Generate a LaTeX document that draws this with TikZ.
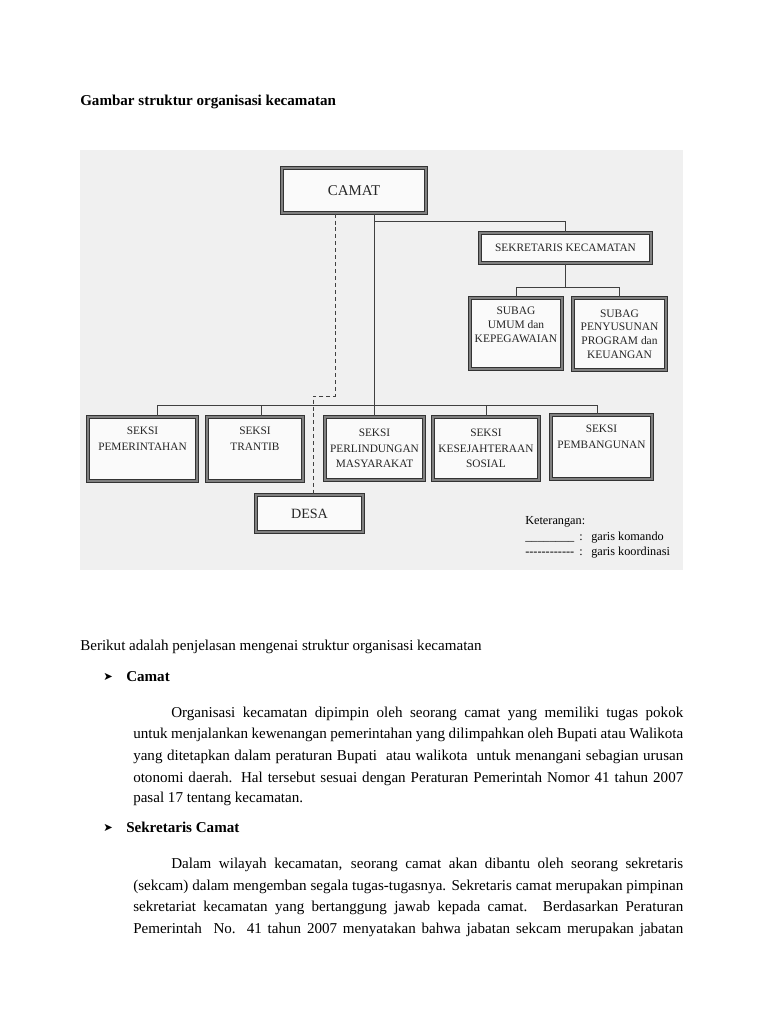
\documentclass[tikz,border=0pt]{standalone}
\usepackage{fontspec}
\setmainfont{Liberation Serif}
\newfontfamily\dejavu{DejaVu Sans}
\newcommand{\bodyfs}{\fontsize{11.3pt}{16pt}\selectfont}
\newcommand{\boxfs}{\fontsize{8.5pt}{11.6pt}\selectfont}
\newcommand{\subfs}{\fontsize{8.6pt}{10.2pt}\selectfont}
\newcommand{\ketfs}{\fontsize{9.2pt}{11pt}\selectfont}
\tikzset{
  dbox/.style={draw=black!80, line width=0.9pt, double=black!50, double distance=1.3pt,
    fill=black!2, inner sep=0pt, align=center, text=black!85},
  cmd/.style={draw=black!75, line width=0.75pt},
  crd/.style={draw=black!75, line width=0.75pt, dash pattern=on 3pt off 2.2pt},
  txt/.style={inner sep=0pt, anchor=base west, text=black},
}
\begin{document}
\begin{tikzpicture}[x=0.75pt,y=-0.75pt]
\useasboundingbox (0,0) rectangle (768,1024);
\fill[white] (0,0) rectangle (768,1024);
% scanned diagram background
\fill[black!6] (80,150) rectangle (683,570);

\node[txt] (title) at (80,105) {\bodyfs\bfseries Gambar struktur organisasi kecamatan};

% boxes
\node[dbox, font=\fontsize{11.2pt}{13pt}\selectfont, minimum width=108pt, minimum height=33.75pt] (camat) at (354,190.5) {CAMAT};
\node[dbox, font=\boxfs, minimum width=128.25pt, minimum height=22.5pt] (sek) at (565.5,248) {SEKRETARIS KECAMATAN};
\node[dbox, font=\subfs, minimum width=69pt, minimum height=53.25pt] (sub1) at (516,333.5) {SUBAG\\UMUM dan\\KEPEGAWAIAN\\\strut};
\node[dbox, font=\subfs, minimum width=69.75pt, minimum height=54pt] (sub2) at (619.5,334) {SUBAG\\PENYUSUNAN\\PROGRAM dan\\KEUANGAN};
\node[dbox, font=\boxfs, minimum width=81.75pt, minimum height=48pt] (s1) at (142.5,449) {SEKSI\\PEMERINTAHAN\\\strut};
\node[dbox, font=\boxfs, minimum width=72pt, minimum height=48pt] (s2) at (255,449) {SEKSI\\TRANTIB\\\strut};
\node[dbox, font=\boxfs, minimum width=74.25pt, minimum height=47.25pt] (s3) at (374.5,448.5) {SEKSI\\PERLINDUNGAN\\MASYARAKAT};
\node[dbox, font=\boxfs, minimum width=79.5pt, minimum height=47.25pt] (s4) at (486,448.5) {SEKSI\\KESEJAHTERAAN\\SOSIAL};
\node[dbox, font=\boxfs, minimum width=75.75pt, minimum height=48pt] (s5) at (601.5,447) {SEKSI\\PEMBANGUNAN\\\strut};
\node[dbox, font=\fontsize{10.6pt}{12pt}\selectfont, minimum width=80.25pt, minimum height=27.75pt] (desa) at (309.5,513.5) {DESA};

% command lines
\coordinate (xs) at (374,405);
\coordinate (yk) at (374,221);
\draw[cmd] (camat.south -| xs) -- (xs);
\draw[cmd] (yk) -| (sek.north);
\coordinate (sj) at (566,287);
\draw[cmd] (sek.south) -- (sek.south |- sj);
\draw[cmd] (sub1.north) -- (sub1.north |- sj) -- (sub2.north |- sj) -- (sub2.north);
\coordinate (d1) at (157,405);
\coordinate (d2) at (261,405);
\coordinate (d4) at (486,405);
\coordinate (d5) at (597,405);
\draw[cmd] (d1) -- (d5);
\draw[cmd] (d1) -- (d1 |- s1.north);
\draw[cmd] (d2) -- (d2 |- s2.north);
\draw[cmd] (xs) -- (xs |- s3.north);
\draw[cmd] (d4) -- (d4 |- s4.north);
\draw[cmd] (d5) -- (d5 |- s5.north);
% coordination line
\coordinate (k1) at (335,396);
\coordinate (k2) at (313,396);
\draw[crd] (camat.south -| k1) -- (k1) -- (k2) -- (k2 |- desa.north);

% legend
\node[txt] (ket) at (525,524) {\ketfs Keterangan:};
\node[txt] (lg1) at (525,540) {\ketfs\_\_\_\_\_\_\_\_};
\node[txt] (lg1c) at (579,540) {\ketfs :};
\node[txt] (lg1t) at (591,540) {\ketfs garis komando};
\node[txt] (lg2) at (525,555) {\ketfs {-}{-}{-}{-}{-}{-}{-}{-}{-}{-}{-}{-}};
\node[txt] (lg2c) at (579,555) {\ketfs :};
\node[txt] (lg2t) at (591,555) {\ketfs garis koordinasi};

% body text
\node[txt] (intro) at (80,650) {\bodyfs Berikut adalah penjelasan mengenai struktur organisasi kecamatan};
\node[txt] (b1) at (103,680) {\fontsize{8.5pt}{10pt}\dejavu ➤};
\node[txt] (h1) at (126,681) {\bodyfs\bfseries Camat};
\node[txt] (p1a) at (171,717) {\bodyfs\makebox[384pt][s]{Organisasi kecamatan dipimpin oleh seorang camat yang memiliki tugas pokok}};
\node[txt] (p1b) at (133,738) {\bodyfs\makebox[412.5pt][s]{untuk menjalankan kewenangan pemerintahan yang dilimpahkan oleh Bupati atau Walikota}};
\node[txt] (p1c) at (133,760) {\bodyfs\makebox[412.5pt][s]{yang ditetapkan dalam peraturan Bupati\ \ atau walikota\ \ untuk menangani sebagian urusan}};
\node[txt] (p1d) at (133,782) {\bodyfs\makebox[412.5pt][s]{otonomi daerah. Hal tersebut sesuai dengan Peraturan Pemerintah Nomor 41 tahun 2007}};
\node[txt] (p1e) at (133,802) {\bodyfs pasal 17 tentang kecamatan.};

\node[txt] (b2) at (103,831) {\fontsize{8.5pt}{10pt}\dejavu ➤};
\node[txt] (h2) at (126,832) {\bodyfs\bfseries Sekretaris Camat};
\node[txt] (p2a) at (171,868) {\bodyfs\makebox[384pt][s]{Dalam wilayah kecamatan, seorang camat akan dibantu oleh seorang sekretaris}};
\node[txt] (p2b) at (133,890) {\bodyfs\makebox[412.5pt][s]{(sekcam) dalam mengemban segala tugas-tugasnya. Sekretaris camat merupakan pimpinan}};
\node[txt] (p2c) at (133,911) {\bodyfs\makebox[412.5pt][s]{sekretariat kecamatan yang bertanggung jawab kepada camat. Berdasarkan Peraturan}};
\node[txt] (p2d) at (133,933) {\bodyfs\makebox[412.5pt][s]{Pemerintah\ \ No. 41 tahun 2007 menyatakan bahwa jabatan sekcam merupakan jabatan}};
\end{tikzpicture}
\end{document}
